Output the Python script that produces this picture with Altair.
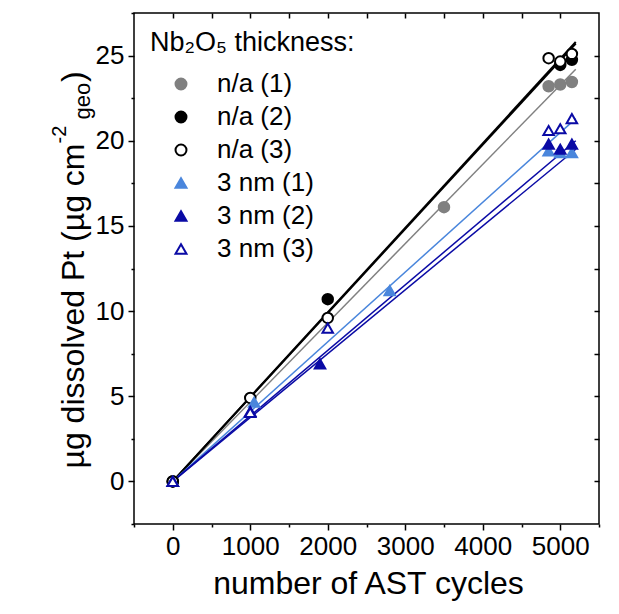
import altair as alt
import pandas as pd

FONT = "Liberation Sans"

# ---------------- data ----------------
series_names = ["n/a (1)", "n/a (2)", "n/a (3)", "3 nm (1)", "3 nm (2)", "3 nm (3)"]

cycles_na1 = [0, 3500, 4850, 5000, 5150]
pt_na1 = [0.0, 16.1, 23.2, 23.3, 23.45]

cycles_na2 = [0, 2000, 5000, 5150]
pt_na2 = [0.0, 10.7, 24.45, 24.75]

cycles_na3 = [0, 1000, 2000, 4850, 5000, 5150]
pt_na3 = [0.0, 4.9, 9.6, 24.85, 24.65, 25.1]

cycles_3nm1 = [0, 1050, 2800, 4850, 5000, 5150]
pt_3nm1 = [0.0, 4.65, 11.2, 19.4, 19.3, 19.3]

cycles_3nm2 = [0, 1000, 1900, 4850, 5000, 5150]
pt_3nm2 = [0.0, 4.1, 6.9, 19.8, 19.5, 19.8]

cycles_3nm3 = [0, 1000, 2000, 4850, 5000, 5150]
pt_3nm3 = [0.0, 4.05, 9.0, 20.6, 20.7, 21.3]

# linear fit lines: value at start and end of the drawn range
fit_cycles = [-50, 5200]
fit_start = [-0.23, -0.25, -0.25, -0.2, -0.19, -0.19]
fit_end = [24.2, 25.8, 25.7, 21.3, 20.0, 19.5]

x_major = [0, 1000, 2000, 3000, 4000, 5000]
x_minor = [-500, 500, 1500, 2500, 3500, 4500, 5500]
x_top = [0, 500, 1000, 1500, 2000, 2500, 3000, 3500, 4000, 4500, 5000]
y_major = [0, 5, 10, 15, 20, 25]
y_minor = [-2.5, 2.5, 7.5, 12.5, 17.5, 22.5, 27.5]
y_right = [0, 2.5, 5, 7.5, 10, 12.5, 15, 17.5, 20, 22.5, 25]

# ---------------- styles ----------------
GRAY = "#808080"
BLACK = "#000000"
LBLUE = "#4A86DC"
DBLUE = "#0A0AA5"
stroke_colors = [GRAY, BLACK, BLACK, LBLUE, DBLUE, DBLUE]
fill_colors = [GRAY, BLACK, "white", LBLUE, DBLUE, "white"]
shapes = ["circle", "circle", "circle", "triangle-up", "triangle-up", "triangle-up"]
line_widths = [1.5, 2, 2, 1.5, 1.5, 1.5]

all_cycles = [cycles_na1, cycles_na2, cycles_na3, cycles_3nm1, cycles_3nm2, cycles_3nm3]
all_pt = [pt_na1, pt_na2, pt_na3, pt_3nm1, pt_3nm2, pt_3nm3]

rows = []
z = 0
for name, cs, ps in zip(series_names, all_cycles, all_pt):
    for c, p in zip(cs, ps):
        rows.append({"series": name, "cycles": c, "pt": p, "z": z})
        z += 1
points_df = pd.DataFrame(rows)

line_rows = []
for name, s, e in zip(series_names, fit_start, fit_end):
    line_rows.append({"series": name, "cycles": fit_cycles[0], "pt": s})
    line_rows.append({"series": name, "cycles": fit_cycles[1], "pt": e})
lines_df = pd.DataFrame(line_rows)

xscale = alt.Scale(domain=[-500, 5500], nice=False, zero=False)
yscale = alt.Scale(domain=[-2.5, 27.5], nice=False, zero=False)

ax_common = dict(labelFont=FONT, labelFontSize=26, labelColor="black",
                 tickColor="black", tickWidth=1.5, domain=False, grid=False)

x_axis_major = alt.Axis(orient="bottom", values=x_major, tickSize=6, labelPadding=3,
                        format="d", title="number of AST cycles", titleFont=FONT,
                        titleFontSize=32, titleFontWeight="normal", titleColor="black",
                        titleX=234, titleY=69, titleAlign="center",
                        titleBaseline="alphabetic", **ax_common)
x_axis_minor = alt.Axis(orient="bottom", values=x_minor, tickSize=3, labels=False,
                        title=None, **ax_common)
x_axis_top = alt.Axis(orient="top", values=x_top, tickSize=5, offset=-5, labels=False,
                      title=None, **ax_common)
y_axis_major = alt.Axis(orient="left", values=y_major, tickSize=6, labelPadding=4,
                        title=None, **ax_common)
y_axis_minor = alt.Axis(orient="left", values=y_minor, tickSize=3, labels=False,
                        title=None, **ax_common)
y_axis_right = alt.Axis(orient="right", values=y_right, tickSize=5, offset=-5,
                        labels=False, title=None, **ax_common)

legend_title = "Nb₂O₅ thickness:"
leg = alt.Legend(title=legend_title, orient="none", legendX=16, legendY=17,
                 titleFont=FONT, titleFontSize=27, titleFontWeight="normal",
                 titleColor="black", titlePadding=14, titleLimit=0, labelFont=FONT,
                 labelFontSize=26, labelColor="black", labelLimit=0, symbolSize=120,
                 symbolStrokeWidth=2, symbolOpacity=1, symbolOffset=18, labelOffset=23,
                 rowPadding=7, padding=0)

# one line layer per series (axes only from the first)
line_layers = []
for i, (name, col, lw) in enumerate(zip(series_names, stroke_colors, line_widths)):
    ax_x = x_axis_major if i == 0 else None
    ax_y = y_axis_major if i == 0 else None
    line_layers.append(
        alt.Chart(lines_df).transform_filter(alt.datum.series == name)
        .mark_line(color=col, strokeWidth=lw)
        .encode(x=alt.X("cycles:Q", scale=xscale, axis=ax_x),
                y=alt.Y("pt:Q", scale=yscale, axis=ax_y))
    )

points = alt.Chart(points_df).mark_point(size=110, strokeWidth=2, opacity=1).encode(
    x=alt.X("cycles:Q", scale=xscale, axis=x_axis_minor),
    y=alt.Y("pt:Q", scale=yscale, axis=y_axis_minor),
    shape=alt.Shape("series:N", scale=alt.Scale(domain=series_names, range=shapes), legend=leg),
    fill=alt.Fill("series:N", scale=alt.Scale(domain=series_names, range=fill_colors), legend=leg),
    stroke=alt.Stroke("series:N", scale=alt.Scale(domain=series_names, range=stroke_colors), legend=leg),
)

frame_ticks = alt.Chart(points_df).mark_point(opacity=0).encode(
    x=alt.X("cycles:Q", scale=xscale, axis=x_axis_top),
    y=alt.Y("pt:Q", scale=yscale, axis=y_axis_right),
)

# y-axis title built from parts (superscript / subscript)
title_parts = ["µg dissolved Pt (µg cm", "-2", "geo", ")"]
part_sizes = [32, 20, 22, 32]
part_x = [-50, -68, -44, -50]
part_y = [455.5, 130.5, 106.5, 69]
title_layers = []
for t, fs, px, py in zip(title_parts, part_sizes, part_x, part_y):
    title_layers.append(
        alt.Chart(pd.DataFrame({"t": [t]})).mark_text(
            font=FONT, fontSize=fs, angle=270, align="left", baseline="alphabetic",
            color="black"
        ).encode(x=alt.value(px), y=alt.value(py), text="t:N")
    )

chart = alt.layer(*line_layers, points, frame_ticks, *title_layers).resolve_axis(
    x="independent", y="independent"
).properties(
    width=465, height=511,
    autosize=alt.AutoSizeParams(type="none"),
    padding={"left": 126, "top": 5, "right": 12, "bottom": 82},
).configure_view(stroke="black", strokeWidth=1.5)

chart.save("out.html", embed_options={"renderer": "svg", "actions": False})
